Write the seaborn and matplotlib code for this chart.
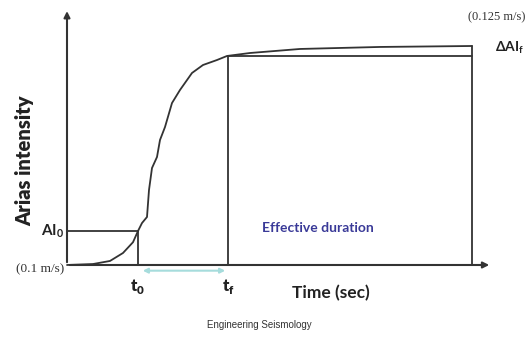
import matplotlib
matplotlib.use("Agg")
import matplotlib.pyplot as plt
import seaborn as sns
import pandas as pd

# ---- data (time in s, Arias intensity in m/s) ----
time_s = [0.0, 2.6, 4.3, 5.6, 6.6, 7.1, 7.5, 8.0, 8.2, 8.5, 9.0, 9.3, 9.8,
          10.5, 11.3, 12.5, 13.6, 15.0, 16.0, 18.3, 23.3, 31.3, 40.5]
arias = [0.1000, 0.10011, 0.10046, 0.10137, 0.10260, 0.10388, 0.10479, 0.10548,
         0.10856, 0.11107, 0.11233, 0.11427, 0.11575, 0.11849, 0.11998, 0.12192,
         0.12283, 0.12340, 0.12386, 0.12420, 0.12466, 0.12489, 0.12500]
t0 = 7.1
tf = 16.1
t_end = 40.5
ai_start = 0.100
ai_0 = 0.10388
ai_tf = 0.12386
ai_end = 0.125
tick_labels = {"start": "(0.1 m/s)", "end": "(0.125 m/s)"}

sns.set_style("white")
plt.rcParams['font.family'] = ['Lato', 'DejaVu Sans']

fig = plt.figure(figsize=(5.26, 3.37), dpi=100)
ax = fig.add_axes([0, 0, 1, 1])
ax.set_xlim(-6.7, 45.9)
ax.set_ylim(0.09178, 0.13025)
ax.axis("off")

lc = "#333333"
lw = 1.3
df = pd.DataFrame({"t": time_s, "ai": arias})
sns.lineplot(data=df, x="t", y="ai", ax=ax, color=lc, lw=lw, sort=False)

# axes with arrows
ax.annotate("", xy=(42.5, ai_start), xytext=(0, ai_start),
            arrowprops=dict(arrowstyle="-|>", color=lc, lw=1.5, mutation_scale=9))
ax.annotate("", xy=(0, 0.1293), xytext=(0, ai_start),
            arrowprops=dict(arrowstyle="-|>", color=lc, lw=1.5, mutation_scale=9))

# guide lines
ax.plot([0, t0], [ai_0, ai_0], color=lc, lw=lw)
ax.plot([t0, t0], [ai_start, ai_0], color=lc, lw=lw)
ax.plot([tf, tf], [ai_start, ai_tf], color=lc, lw=lw)
ax.plot([tf, t_end], [ai_tf, ai_tf], color=lc, lw=lw)
ax.plot([t_end, t_end], [ai_start, ai_end], color=lc, lw=lw)

# effective duration arrow
ax.annotate("", xy=(tf, 0.09935), xytext=(t0 + 0.2, 0.09935),
            arrowprops=dict(arrowstyle="<|-|>", color="#a6dcdc", lw=1.5, mutation_scale=7))

# texts
fig.text(25 / 526, 1 - 161 / 337, "Arias intensity", rotation=90, fontsize=14.5,
         fontweight="heavy", color="#222222", ha="center", va="center")
ax.text(-0.3, ai_start - 0.0005, tick_labels["start"], family="Liberation Serif",
        fontsize=9.5, color="#333333", ha="right", va="center")
fig.text(525 / 526, 1 - 17 / 337, tick_labels["end"], family="Liberation Serif",
         fontsize=9, color="#333333", ha="right", va="center")
ax.text(-0.3, ai_0, "AI$_\\mathregular{0}$", fontsize=11, fontweight="bold",
        color="#222222", ha="right", va="center")
fig.text(495 / 526, 1 - 48 / 337, "ΔAI$_\\mathregular{f}$", fontsize=10,
         fontweight="bold", color="#222222", ha="left", va="center")
ax.text(t0, 0.0976, "t$_\\mathregular{0}$", fontsize=12, fontweight="heavy",
        color="#222222", ha="center", va="center")
ax.text(tf, 0.0976, "t$_\\mathregular{f}$", fontsize=12, fontweight="heavy",
        color="#222222", ha="center", va="center")
fig.text(331 / 526, 1 - 293 / 337, "Time (sec)", fontsize=12.5, fontweight="bold",
         color="#222222", ha="center", va="center")
fig.text(318 / 526, 1 - 228 / 337, "Effective duration", fontsize=10,
         fontweight="bold", color="#3a3a98", ha="center", va="center")
fig.text(259 / 526, 1 - 325 / 337, "Engineering Seismology", fontsize=7,
         family="Liberation Sans", color="#333333", ha="center", va="center")

fig.savefig("out.png", dpi=100)
